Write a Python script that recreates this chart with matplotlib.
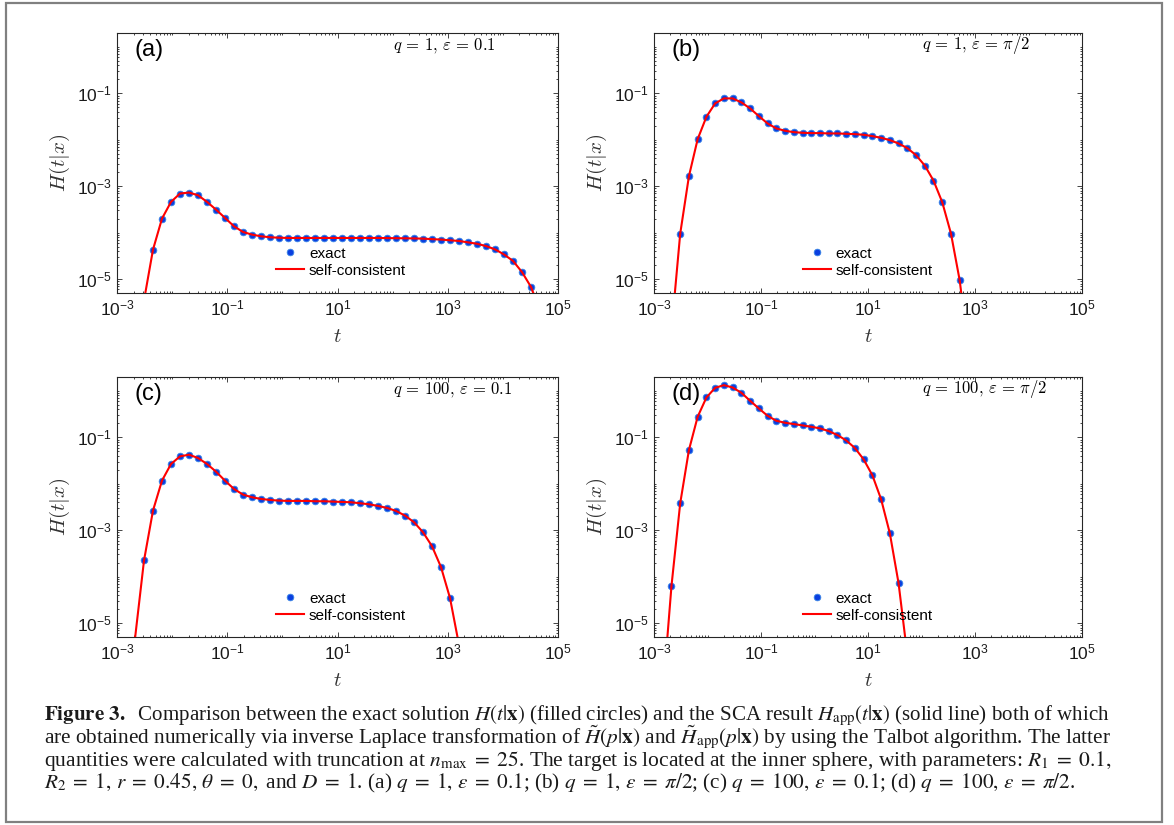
import numpy as np
import matplotlib
matplotlib.use("Agg")
import matplotlib.pyplot as plt
from matplotlib.ticker import FixedLocator, FuncFormatter, NullFormatter
from matplotlib.patches import Rectangle

plt.rcParams["font.family"] = ["Liberation Sans", "DejaVu Sans"]
plt.rcParams["mathtext.fontset"] = "cm"

# ---------------- data (log10 values) ----------------
LOG_T = [-3.000, -2.837, -2.673, -2.510, -2.347, -2.184, -2.020, -1.857, -1.694, -1.531,
         -1.367, -1.204, -1.041, -0.878, -0.714, -0.551, -0.388, -0.224, -0.061, 0.102,
         0.265, 0.429, 0.592, 0.755, 0.918, 1.082, 1.245, 1.408, 1.571, 1.735,
         1.898, 2.061, 2.224, 2.388, 2.551, 2.714, 2.878, 3.041, 3.204, 3.367,
         3.531, 3.694, 3.857, 4.020, 4.184, 4.347, 4.510, 4.673, 4.837, 5.000]

PANEL_LABELS = ["(a)", "(b)", "(c)", "(d)"]
PARAM_LABELS = [r"$q\,=\,1,\,\varepsilon\,=\,0.1$", r"$q\,=\,1,\,\varepsilon\,=\,\pi/2$",
                r"$q\,=\,100,\,\varepsilon\,=\,0.1$", r"$q\,=\,100,\,\varepsilon\,=\,\pi/2$"]
LEGEND_LABELS = ["exact", "self-consistent"]

# first grid index of each series
EXACT_START = [4, 3, 3, 2]
LINE_START = [3, 2, 2, 1]

EXACT_A = [-4.367, -3.698, -3.338, -3.158, -3.137, -3.194, -3.338, -3.504, -3.683, -3.863,
           -3.986, -4.043, -4.079, -4.100, -4.110, -4.115, -4.115, -4.115, -4.115, -4.115,
           -4.115, -4.115, -4.115, -4.115, -4.115, -4.115, -4.118, -4.120, -4.122, -4.125,
           -4.130, -4.140, -4.150, -4.165, -4.180, -4.210, -4.240, -4.290, -4.360, -4.470,
           -4.610, -4.850, -5.170]
EXACT_B = [-4.022, -2.784, -1.986, -1.504, -1.216, -1.108, -1.108, -1.194, -1.324, -1.489,
           -1.647, -1.755, -1.806, -1.835, -1.849, -1.856, -1.856, -1.863, -1.863, -1.871,
           -1.878, -1.892, -1.921, -1.957, -2.007, -2.079, -2.180, -2.331, -2.554, -2.878,
           -3.345, -4.022, -5.029]
EXACT_C = [-3.652, -2.577, -1.932, -1.573, -1.409, -1.373, -1.444, -1.573, -1.738, -1.932,
           -2.111, -2.233, -2.290, -2.326, -2.348, -2.362, -2.369, -2.369, -2.369, -2.376,
           -2.376, -2.384, -2.391, -2.398, -2.419, -2.441, -2.477, -2.520, -2.584, -2.685,
           -2.828, -3.043, -3.344, -3.796, -4.462]
EXACT_D = [-4.197, -2.419, -1.272, -0.556, -0.140, 0.068, 0.125, 0.075, -0.039, -0.211,
           -0.376, -0.534, -0.642, -0.685, -0.713, -0.742, -0.771, -0.806, -0.864, -0.950,
           -1.065, -1.229, -1.473, -1.817, -2.333, -3.065, -4.140]

LINE_A = [-5.46] + EXACT_A + [-5.68]
LINE_B = [-6.10] + EXACT_B + [-6.56]
LINE_C = [-5.33] + EXACT_C + [-5.47]
LINE_D = [-6.56] + EXACT_D + [-5.69]

EXACTS = [EXACT_A, EXACT_B, EXACT_C, EXACT_D]
LINES = [LINE_A, LINE_B, LINE_C, LINE_D]

X_MAJOR_EXP = [-3, -1, 1, 3, 5]
Y_MAJOR_EXP = [-5, -3, -1]

CAPTION = [
    r"$\mathbf{Figure\ 3.}$  Comparison between the exact solution $H(t|\mathbf{x})$ (filled circles) and the SCA result $H_{\mathrm{app}}(t|\mathbf{x})$ (solid line) both of which",
    r"are obtained numerically via inverse Laplace transformation of $\tilde{H}(p|\mathbf{x})$ and $\tilde{H}_{\mathrm{app}}(p|\mathbf{x})$ by using the Talbot algorithm. The latter",
    r"quantities were calculated with truncation at $n_{\max}\;=\;25$. The target is located at the inner sphere, with parameters: $R_1\;=\;0.1,$",
    r"$R_2\;=\;1,\,r\;=\;0.45,\,\theta\;=\;0,$ and $D\;=\;1$. (a) $q\;=\;1,\,\varepsilon\;=\;0.1$; (b) $q\;=\;1,\,\varepsilon\;=\;\pi/2$; (c) $q\;=\;100,\,\varepsilon\;=\;0.1$; (d) $q\;=\;100,\,\varepsilon\;=\;\pi/2$.",
]

# ---------------- layout ----------------
W, H = 1174, 825
fig = plt.figure(figsize=(W / 100, H / 100), dpi=100)
fig.patch.set_facecolor("white")

def px_rect(l, t, r, b):
    return [l / W, 1 - b / H, (r - l) / W, (b - t) / H]

RECTS = [px_rect(117, 33, 558, 293), px_rect(654, 33, 1082, 293),
         px_rect(117, 377, 558, 637), px_rect(654, 377, 1082, 637)]
LEG_POS = [(0.508, 0.119), (0.500, 0.119), (0.508, 0.115), (0.500, 0.115)]

AX_COL = "#262626"
PT_FACE = "#0a3fe0"
PT_EDGE = "#3c86e6"

def sci(v, pos):
    e = int(round(np.log10(v)))
    return r"$\mathregular{10^{%d}}$" % e

for i in range(4):
    ax = fig.add_axes(RECTS[i])
    t_ex = [10 ** LOG_T[EXACT_START[i] + j] for j in range(len(EXACTS[i]))]
    h_ex = [10 ** v for v in EXACTS[i]]
    t_ln = [10 ** LOG_T[LINE_START[i] + j] for j in range(len(LINES[i]))]
    h_ln = [10 ** v for v in LINES[i]]
    pts, = ax.plot(t_ex, h_ex, linestyle="none", marker="o", markersize=4.8,
                   markerfacecolor=PT_FACE, markeredgecolor=PT_EDGE, markeredgewidth=0.6,
                   zorder=2)
    ln, = ax.plot(t_ln, h_ln, color="#ff0000", lw=1.5, zorder=3)
    ax.set_xscale("log")
    ax.set_yscale("log")
    ax.set_xlim(1e-3, 1e5)
    ax.set_ylim(5e-6, 2.0)

    ax.xaxis.set_major_locator(FixedLocator([10.0 ** e for e in X_MAJOR_EXP]))
    ax.yaxis.set_major_locator(FixedLocator([10.0 ** e for e in Y_MAJOR_EXP]))
    xmin = [k * 10.0 ** e for e in range(-3, 5) for k in range(1, 10)
            if not (k == 1 and e in X_MAJOR_EXP)]
    ymin = [k * 10.0 ** e for e in range(-6, 1) for k in range(1, 10)
            if not (k == 1 and e in Y_MAJOR_EXP)]
    ax.xaxis.set_minor_locator(FixedLocator(xmin))
    ax.yaxis.set_minor_locator(FixedLocator(ymin))
    ax.xaxis.set_major_formatter(FuncFormatter(sci))
    ax.yaxis.set_major_formatter(FuncFormatter(sci))
    ax.xaxis.set_minor_formatter(NullFormatter())
    ax.yaxis.set_minor_formatter(NullFormatter())
    ax.tick_params(which="both", direction="in", top=True, right=True,
                   color=AX_COL, labelcolor="#1a1a1a", width=0.6)
    ax.tick_params(which="major", length=3.4, labelsize=12.5, pad=4)
    ax.tick_params(which="minor", length=1.7)
    for s in ax.spines.values():
        s.set_color(AX_COL)
        s.set_linewidth(0.8)

    ax.set_xlabel(r"$t$", fontsize=15, color="#333333", labelpad=6)
    ax.set_ylabel(r"$H(t|x)$", fontsize=15, color="#333333", labelpad=3)

    ax.text(0.04, 0.935, PANEL_LABELS[i], transform=ax.transAxes, fontsize=17,
            ha="left", va="center", color="black")
    ax.text(0.625, 0.952, PARAM_LABELS[i], transform=ax.transAxes, fontsize=12,
            ha="left", va="center", color="black")

    ax.legend([pts, ln], LEGEND_LABELS, loc="center", bbox_to_anchor=LEG_POS[i],
              frameon=False, fontsize=11, handlelength=1.85, handletextpad=0.3,
              labelspacing=0.2, borderpad=0, borderaxespad=0, numpoints=1)

# caption
CAP_X = 44
CAP_BASE = [720.5, 743.5, 766, 788]
CAP_RIGHT = 1108
cap_texts = []
for j, line in enumerate(CAPTION):
    tt = fig.text(CAP_X / W, 1 - CAP_BASE[j] / H, line, fontsize=12.2,
                  family=["Liberation Serif", "DejaVu Serif"], math_fontfamily="stix",
                  ha="left", va="baseline", color="#1a1a1a")
    cap_texts.append(tt)

fig.canvas.draw()
r = fig.canvas.get_renderer()
sizes = []
for tt in cap_texts[:3]:
    w = tt.get_window_extent(r).width
    s = tt.get_fontsize() * (CAP_RIGHT - CAP_X) / w
    tt.set_fontsize(s)
    sizes.append(s)
cap_texts[3].set_fontsize(float(np.mean(sizes)))

# outer frame
fig.patches.append(Rectangle((6 / W, 1 - 822 / H), (1162 - 6) / W, (822 - 3) / H,
                             transform=fig.transFigure, fill=False,
                             edgecolor="#808080", lw=1.6))

fig.savefig("out.png", dpi=100)
